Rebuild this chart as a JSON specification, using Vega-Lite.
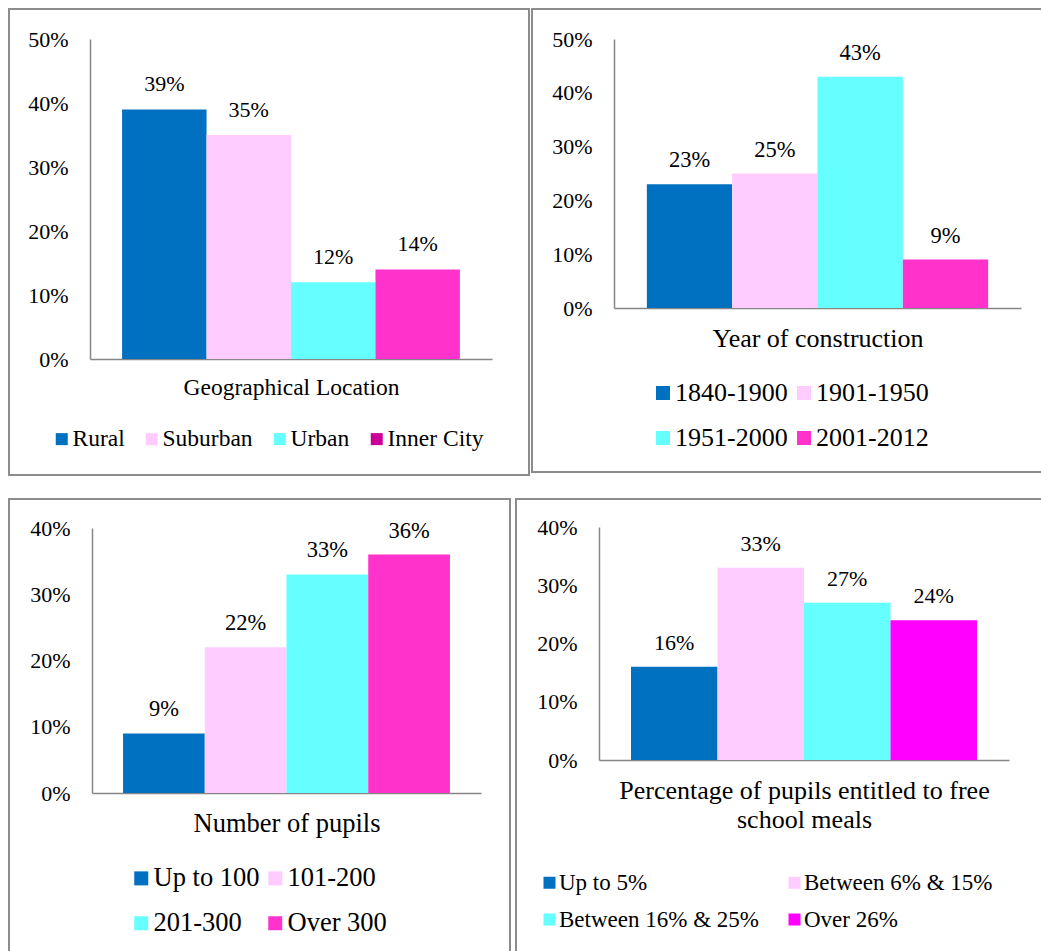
{
  "$schema": "https://vega.github.io/schema/vega-lite/v6.json",
  "padding": {"left": 8, "top": 8, "right": 0, "bottom": 0},
  "background": "white",
  "datasets": {
    "geo": [
      {"cat": "Rural", "v": 0.39},
      {"cat": "Suburban", "v": 0.35},
      {"cat": "Urban", "v": 0.12},
      {"cat": "Inner City", "v": 0.14}
    ],
    "year": [
      {"cat": "1840-1900", "v": 0.23},
      {"cat": "1901-1950", "v": 0.25},
      {"cat": "1951-2000", "v": 0.43},
      {"cat": "2001-2012", "v": 0.09}
    ],
    "pupils": [
      {"cat": "Up to 100", "v": 0.09},
      {"cat": "101-200", "v": 0.22},
      {"cat": "201-300", "v": 0.33},
      {"cat": "Over 300", "v": 0.36}
    ],
    "fsm": [
      {"cat": "Up to 5%", "v": 0.16},
      {"cat": "Between 6% & 15%", "v": 0.33},
      {"cat": "Between 16% & 25%", "v": 0.27},
      {"cat": "Over 26%", "v": 0.24}
    ]
  },
  "vconcat": [
    {
      "hconcat": [
        {
          "width": 520, "height": 466,
          "data": {"name": "geo"},
          "encoding": {
            "x": {"field": "cat", "type": "nominal", "sort": null,
              "scale": {"range": [81, 483], "paddingInner": 0, "paddingOuter": 0.38},
              "axis": {"title": "Geographical Location", "offset": -116, "titleY": 35, "titleBaseline": "alphabetic", "titleFontSize": 23.5}},
            "y": {"field": "v", "type": "quantitative",
              "scale": {"domain": [0, 0.5], "range": [350, 30], "nice": false},
              "axis": {"title": null, "offset": -81, "values": [0, 0.1, 0.2, 0.3, 0.4, 0.5], "format": ".0%"}}
          },
          "layer": [
            {"mark": {"type": "bar"},
             "encoding": {
               "color": {"condition": {"test": "datum.cat === 'Inner City'", "value": "#FF33CC"},
                 "field": "cat", "type": "nominal",
                 "scale": {"domain": ["Rural", "Suburban", "Urban", "Inner City"], "range": ["#0070C0", "#FFCCFF", "#66FFFF", "#CC0099"]},
                 "legend": {"title": null, "orient": "none", "legendX": 41, "legendY": 418, "direction": "horizontal", "columns": 4, "columnPadding": 15, "symbolSize": 144, "labelFontSize": 23.5, "labelOffset": -1}}
             }},
            {"mark": {"type": "text", "baseline": "alphabetic", "dy": -18, "fontSize": 22, "color": "black"},
             "encoding": {"text": {"field": "v", "type": "quantitative", "format": ".0%"}}}
          ]
        },
        {
          "width": 512, "height": 463,
          "data": {"name": "year"},
          "encoding": {
            "x": {"field": "cat", "type": "nominal", "sort": null,
              "scale": {"range": [82, 489], "paddingInner": 0, "paddingOuter": 0.385},
              "axis": {"title": "Year of construction", "offset": -164, "titleY": 38, "titleBaseline": "alphabetic", "titleFontSize": 26}},
            "y": {"field": "v", "type": "quantitative",
              "scale": {"domain": [0, 0.5], "range": [299, 30], "nice": false},
              "axis": {"title": null, "offset": -82, "values": [0, 0.1, 0.2, 0.3, 0.4, 0.5], "format": ".0%"}}
          },
          "layer": [
            {"mark": {"type": "bar"},
             "encoding": {
               "color": {"field": "cat", "type": "nominal",
                 "scale": {"domain": ["1840-1900", "1901-1950", "1951-2000", "2001-2012"], "range": ["#0070C0", "#FFCCFF", "#66FFFF", "#FF33CC"]},
                 "legend": {"title": null, "orient": "none", "legendX": 118, "legendY": 371, "direction": "horizontal", "columns": 2, "columnPadding": 3, "rowPadding": 19, "symbolSize": 196, "labelFontSize": 26, "labelOffset": -1}}
             }},
            {"mark": {"type": "text", "baseline": "alphabetic", "dy": -17, "fontSize": 22.5, "color": "black"},
             "encoding": {"text": {"field": "v", "type": "quantitative", "format": ".0%"}}}
          ]
        }
      ],
      "spacing": 1,
      "resolve": {"scale": {"x": "independent", "y": "independent", "color": "independent"}, "legend": {"color": "independent"}, "axis": {"x": "independent", "y": "independent"}}
    },
    {
      "hconcat": [
        {
          "width": 501, "height": 455,
          "data": {"name": "pupils"},
          "encoding": {
            "x": {"field": "cat", "type": "nominal", "sort": null,
              "scale": {"range": [83, 472], "paddingInner": 0, "paddingOuter": 0.38},
              "axis": {"title": "Number of pupils", "offset": -161, "titleY": 38, "titleBaseline": "alphabetic", "titleFontSize": 26.5}},
            "y": {"field": "v", "type": "quantitative",
              "scale": {"domain": [0, 0.4], "range": [294, 29], "nice": false},
              "axis": {"title": null, "offset": -83, "values": [0, 0.1, 0.2, 0.3, 0.4], "format": ".0%"}}
          },
          "layer": [
            {"mark": {"type": "bar"},
             "encoding": {
               "color": {"field": "cat", "type": "nominal",
                 "scale": {"domain": ["Up to 100", "101-200", "201-300", "Over 300"], "range": ["#0070C0", "#FFCCFF", "#66FFFF", "#FF33CC"]},
                 "legend": {"title": null, "orient": "none", "legendX": 119, "legendY": 366, "direction": "horizontal", "columns": 2, "columnPadding": 2, "rowPadding": 18, "symbolSize": 196, "labelFontSize": 26.5, "labelOffset": -1}}
             }},
            {"mark": {"type": "text", "baseline": "alphabetic", "dy": -17, "fontSize": 22.5, "color": "black"},
             "encoding": {"text": {"field": "v", "type": "quantitative", "format": ".0%"}}}
          ]
        },
        {
          "width": 528, "height": 455,
          "data": {"name": "fsm"},
          "encoding": {
            "x": {"field": "cat", "type": "nominal", "sort": null,
              "scale": {"range": [83, 493], "paddingInner": 0, "paddingOuter": 0.37},
              "axis": {"title": ["Percentage of pupils entitled to free", "school meals"], "offset": -194, "titleY": 38, "titleBaseline": "alphabetic", "titleFontSize": 26, "titleLineHeight": 29}},
            "y": {"field": "v", "type": "quantitative",
              "scale": {"domain": [0, 0.4], "range": [261, 28], "nice": false},
              "axis": {"title": null, "offset": -83, "values": [0, 0.1, 0.2, 0.3, 0.4], "format": ".0%"}}
          },
          "layer": [
            {"mark": {"type": "bar"},
             "encoding": {
               "color": {"field": "cat", "type": "nominal",
                 "scale": {"domain": ["Up to 5%", "Between 6% & 15%", "Between 16% & 25%", "Over 26%"], "range": ["#0070C0", "#FFCCFF", "#66FFFF", "#FF00FF"]},
                 "legend": {"title": null, "orient": "none", "legendX": 22, "legendY": 372, "direction": "horizontal", "columns": 2, "columnPadding": 24, "rowPadding": 13, "symbolSize": 144, "labelFontSize": 23, "labelOffset": -2}}
             }},
            {"mark": {"type": "text", "baseline": "alphabetic", "dy": -17, "fontSize": 22, "color": "black"},
             "encoding": {"text": {"field": "v", "type": "quantitative", "format": ".0%"}}}
          ]
        }
      ],
      "spacing": 4,
      "resolve": {"scale": {"x": "independent", "y": "independent", "color": "independent"}, "legend": {"color": "independent"}, "axis": {"x": "independent", "y": "independent"}}
    }
  ],
  "spacing": 22,
  "resolve": {"scale": {"x": "independent", "y": "independent", "color": "independent"}, "legend": {"color": "independent"}, "axis": {"x": "independent", "y": "independent"}},
  "config": {
    "font": "Liberation Serif",
    "view": {"stroke": "#8c8c8c", "strokeWidth": 2},
    "axis": {
      "grid": false, "ticks": false, "tickSize": 0,
      "domainColor": "#868686", "domainWidth": 1.5,
      "labelFont": "Liberation Serif", "labelFontSize": 22, "labelColor": "black",
      "titleFont": "Liberation Serif", "titleColor": "black", "titleFontWeight": "normal"
    },
    "axisX": {"labels": false},
    "axisY": {"labelPadding": 22},
    "legend": {
      "padding": 0, "symbolType": "square", "symbolStrokeWidth": 0,
      "labelFont": "Liberation Serif", "labelColor": "black", "labelLimit": 400
    },
    "text": {"font": "Liberation Serif"}
  }
}
